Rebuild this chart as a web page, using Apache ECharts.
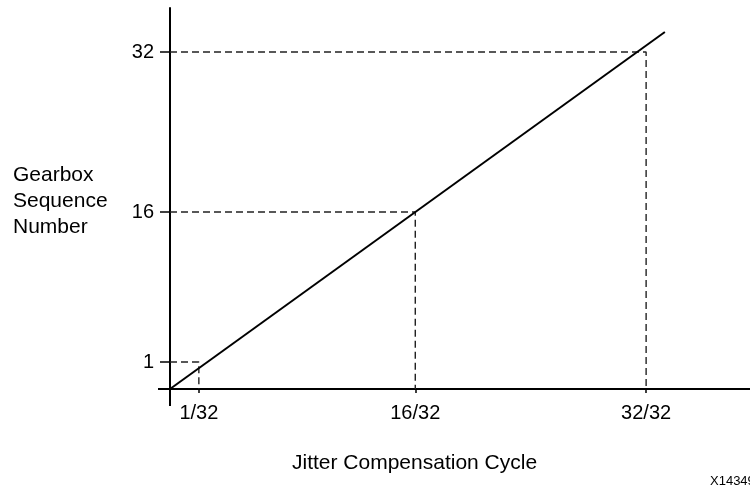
<!DOCTYPE html>
<html>
<head>
<meta charset="utf-8">
<script src="https://cdn.jsdelivr.net/npm/echarts@6/dist/echarts.min.js"></script>
<style>
  html, body { margin: 0; padding: 0; background: #fff; }
  #chart { width: 750px; height: 489px; }
</style>
</head>
<body>
<div id="chart"></div>
<script>
// tick values (cycle in 1/32 units, gearbox sequence number)
const cycleTicks = [1, 16, 32];
const seqTicks = [1, 16, 32];
// the ramp, from the origin to past the last cycle
const rampX = [-1, 33.3];
const rampY = [-1.7, 34];
// axis extents
const cycleRange = [-1, 39.2];
const seqRange = [-1.7, 36.4];

const FONT = "'Liberation Sans', Arial, sans-serif";
const INK = "#000";

const chart = echarts.init(document.getElementById("chart"));

// dashed guides: y axis -> corner -> x axis
const guides = cycleTicks.map((c, i) => ({
  type: "line",
  data: [
    [cycleRange[0], seqTicks[i]],
    [c, seqTicks[i]],
    [c, seqRange[0]],
  ],
  symbol: "none",
  silent: true,
  lineStyle: { color: "#222", width: 1.4, type: [7, 4] },
  z: 1,
}));

const option = {
  animation: false,
  textStyle: { fontFamily: FONT },
  title: [
    {
      text: "Gearbox\nSequence\nNumber",
      left: 13,
      top: 162,
      padding: 0,
      textStyle: { fontSize: 21, lineHeight: 26, fontWeight: "normal", color: INK, fontFamily: FONT },
    },
    {
      text: "Jitter Compensation Cycle",
      left: 292,
      top: 453,
      padding: 0,
      textStyle: { fontSize: 21, fontWeight: "normal", color: INK, fontFamily: FONT },
    },
    {
      text: "X14349",
      left: 710,
      top: 475,
      padding: 0,
      textStyle: { fontSize: 13, fontWeight: "normal", color: INK, fontFamily: FONT },
    },
  ],
  grid: {
    left: 170,
    right: 0,
    top: 8,
    bottom: 100,
    containLabel: false,
    outerBoundsMode: "none",
  },
  xAxis: {
    type: "value",
    min: cycleRange[0],
    max: cycleRange[1],
    splitLine: { show: false },
    axisLine: {
      onZero: false,
      symbol: ["rect", "none"],
      symbolSize: [2, 24],
      lineStyle: { color: "#000", width: 2 },
    },
    axisTick: {
      customValues: cycleTicks,
      length: 4,
      lineStyle: { color: "#000", width: 1.5 },
    },
    axisLabel: {
      customValues: cycleTicks,
      formatter: (v) => v + "/32",
      fontSize: 20,
      color: INK,
      margin: 14,
      fontFamily: FONT,
    },
  },
  yAxis: {
    type: "value",
    min: seqRange[0],
    max: seqRange[1],
    splitLine: { show: false },
    axisLine: {
      onZero: false,
      symbol: ["rect", "none"],
      symbolSize: [2, 34],
      lineStyle: { color: "#000", width: 2 },
    },
    axisTick: {
      customValues: seqTicks,
      length: 10,
      lineStyle: { color: "#000", width: 1.5 },
    },
    axisLabel: {
      customValues: seqTicks,
      fontSize: 20,
      color: INK,
      margin: 16,
      fontFamily: FONT,
    },
  },
  series: [
    ...guides,
    {
      type: "line",
      data: rampX.map((x, i) => [x, rampY[i]]),
      symbol: "none",
      silent: true,
      lineStyle: { color: "#000", width: 2 },
      z: 3,
    },
  ],
};

chart.setOption(option);
</script>
</body>
</html>
